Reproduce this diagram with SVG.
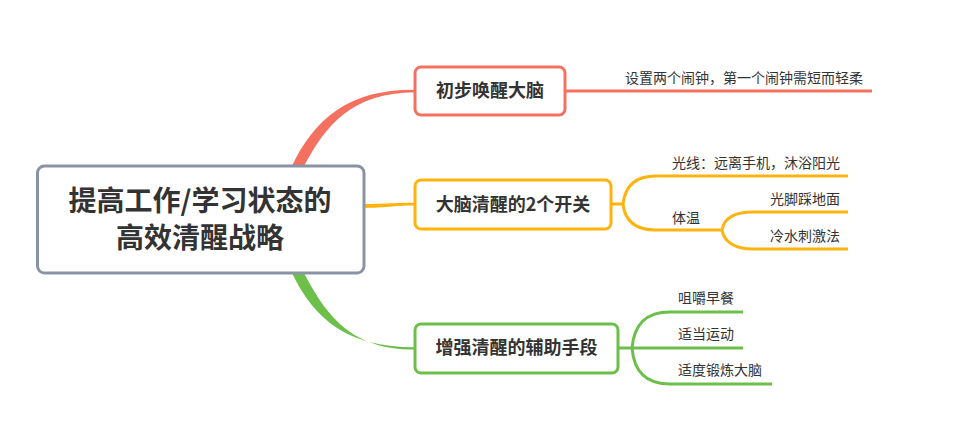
<svg xmlns="http://www.w3.org/2000/svg" width="966" height="443" viewBox="0 0 966 443">
<style>
text{font-family:"Noto Sans CJK SC","Noto Sans",sans-serif;fill:#333}
.main{font-size:28px;font-weight:bold;text-anchor:middle}
.topic{font-size:18px;font-weight:bold;text-anchor:middle}
.sub{font-size:14px}
.box{fill:#fff;stroke-width:3}
.ln{fill:none;stroke-width:3;stroke-linecap:butt}
.red{stroke:#f4705f}.yel{stroke:#ffb30f}.grn{stroke:#6cc04a}
</style>
<rect width="966" height="443" fill="#fff"/>
<g id="connectors">
<path d="M291,168 C315,117 350,89.3 415,89.8 L415,92.2 C352,93 326,124 303,168 Z" fill="#f4705f"/>
<path d="M291,271 C315,322 350,347.3 415,347.2 L415,349.6 C352,350 326,316 303,271 Z" fill="#6cc04a"/>
<path d="M364,204 C386,204 392,202.8 415,202.8 L415,205.6 C392,205.6 386,208 364,208 Z" fill="#ffb30f"/>
<path class="ln red" d="M565,91 H872"/>
<path class="ln yel" d="M611,204 H623 M623,204 C625,186 636,176 656,176 H848 M623,204 C625,222 636,230 656,230 H722 M722,230 C724,218 735,212 753,212 H848 M722,230 C724,242 735,249 753,249 H848"/>
<path class="ln grn" d="M618,348 H632 M632,348 C634,325 645,312 670,312 H743 M632,348 H743 M632,348 C634,371 645,384 670,384 H772"/>
</g>
<g id="root">
<rect x="37.5" y="166" width="326.5" height="107" rx="7" class="box" style="stroke:#8a93a5"/>
<text class="main" x="200" y="211">提高工作/学习状态的</text>
<text class="main" x="200" y="248">高效清醒战略</text>
</g>
<g id="n1">
<rect x="415" y="67" width="150" height="48" rx="6" class="box red"/>
<text class="topic" x="490" y="97">初步唤醒大脑</text>
</g>
<g id="n1a"><text class="sub" x="625" y="83">设置两个闹钟，第一个闹钟需短而轻柔</text></g>
<g id="n2">
<rect x="415" y="180" width="196" height="49" rx="6" class="box yel"/>
<text class="topic" x="513" y="211">大脑清醒的2个开关</text>
</g>
<g id="n2a"><text class="sub" x="672" y="168">光线：远离手机，沐浴阳光</text></g>
<g id="n2b"><text class="sub" x="672" y="223">体温</text></g>
<g id="n2b1"><text class="sub" x="770" y="204">光脚踩地面</text></g>
<g id="n2b2"><text class="sub" x="770" y="241">冷水刺激法</text></g>
<g id="n3">
<rect x="415" y="324" width="203" height="49" rx="6" class="box grn"/>
<text class="topic" x="516.5" y="354">增强清醒的辅助手段</text>
</g>
<g id="n3a"><text class="sub" x="678" y="303">咀嚼早餐</text></g>
<g id="n3b"><text class="sub" x="678" y="339">适当运动</text></g>
<g id="n3c"><text class="sub" x="678" y="375">适度锻炼大脑</text></g>
</svg>
